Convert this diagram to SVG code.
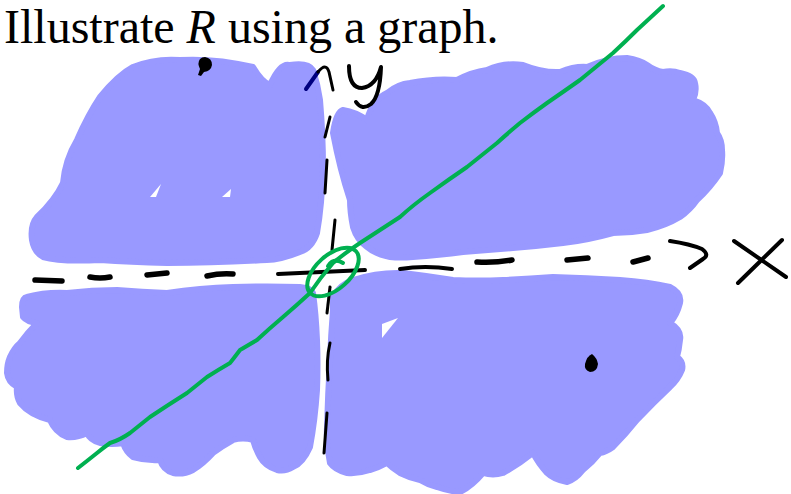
<svg xmlns="http://www.w3.org/2000/svg" width="791" height="494" viewBox="0 0 791 494">
<style>
.blob{fill:#9999FF;stroke:#9999FF;stroke-width:6;stroke-linejoin:round}
.hole{fill:#FFFFFF}
.ink{fill:none;stroke:#000;stroke-width:4;stroke-linecap:round;stroke-linejoin:round}
.dash{fill:none;stroke:#000;stroke-width:5.5;stroke-linecap:round}
.vdash{fill:none;stroke:#000;stroke-width:3;stroke-linecap:round}
.green{fill:none;stroke:#00B050;stroke-width:4;stroke-linecap:round;stroke-linejoin:round}
.title{font-family:"Liberation Serif","Times New Roman",serif;font-size:48px;fill:#000}
</style>
<rect width="791" height="494" fill="#FFFFFF"/>
<text class="title" x="4" y="43">Illustrate <tspan font-style="italic">R</tspan> using a graph.</text>

<g id="regions">
<path class="blob" d="M32,240 Q30,225 37,217 Q55,200 63,183 Q65,160 77,140 Q88,115 100,97 Q118,75 133,67 Q155,58 180,60 Q215,58 253,67 Q262,82 270,85 Q280,62 290,65 Q308,62 313,70 Q318,85 320,100 Q323,135 323,167 Q322,205 317,233 Q312,248 300,252 Q280,260 267,260 Q215,263 167,263 Q130,262 100,260 Q60,262 43,257 Q34,252 32,240 Z"/>
<path class="blob" d="M333,133 Q336,112 343,110 Q356,112 367,120 Q372,100 387,93 Q398,84 410,83 Q435,78 457,80 Q472,72 487,70 Q505,62 523,65 Q543,73 560,72 Q575,66 587,67 Q607,58 627,58 Q640,60 647,65 Q655,71 663,72 Q672,70 680,73 Q694,76 695,83 Q697,92 693,100 Q706,104 710,113 Q716,122 717,133 Q722,140 722,150 Q723,160 720,173 Q710,188 697,200 Q690,210 680,217 Q665,226 647,230 Q630,233 613,233 Q588,240 563,243 Q538,246 513,248 Q488,250 463,252 Q440,255 413,257 Q400,258 390,257 Q375,254 367,247 Q357,240 353,227 Q350,212 350,200 Q340,170 333,133 Z"/>
<path class="blob" d="M22,307 Q22,298 27,297 Q45,292 67,293 Q92,290 117,290 Q142,292 167,293 Q200,288 233,287 Q267,286 300,287 Q311,288 313,293 Q316,315 317,340 Q318,365 317,390 Q315,420 310,447 Q303,463 293,467 Q285,472 277,470 Q265,466 260,457 Q255,448 253,440 Q243,437 233,440 Q222,446 213,453 Q203,464 193,470 Q183,475 173,473 Q163,470 160,460 Q147,461 133,457 Q126,452 123,443 Q112,445 100,443 Q90,440 87,433 Q77,438 67,437 Q55,432 50,420 Q30,415 20,403 Q16,396 17,387 Q8,382 7,373 Q7,364 10,357 Q14,348 20,343 Q28,332 37,323 Q27,322 23,317 Z"/>
<path class="blob" d="M333,297 Q340,284 353,280 Q378,272 403,273 Q428,276 453,280 Q478,281 503,280 Q528,279 553,277 Q587,278 620,280 Q648,282 670,287 Q682,293 680,303 Q677,315 670,323 Q682,330 680,340 Q679,350 677,357 Q684,362 682,370 Q678,380 670,387 Q653,403 637,420 Q625,435 613,447 Q606,452 600,453 Q592,463 583,470 Q575,480 567,482 Q554,480 547,473 Q538,463 533,453 Q518,465 503,473 Q493,476 483,473 Q472,486 460,492 Q448,491 437,487 Q428,485 420,480 Q410,478 400,473 Q392,468 387,463 Q378,468 370,470 Q358,474 347,473 Q335,470 330,463 Q326,445 327,427 Q328,393 330,360 Q331,335 333,310 Z"/>
<path class="hole" d="M150,197 L161,184 L156,197 Z"/>
<path class="hole" d="M222,197 L231,189 L230,197 Z"/>
<path class="hole" d="M382,324 L398,318 L382,338 Z"/>
</g>

<g id="points">
<path d="M205,57 Q212,58 212,65 Q211,71 204,72 L201,76 L198,75 L200,69 Q197,63 200,59 Q202,57 205,57 Z" fill="#000"/>
<path d="M592,354 Q597,358 598,364 Q597,372 590,372 Q584,370 585,364 Q587,356 592,354 Z" fill="#000"/>
</g>

<g id="axes">
<g id="x-axis">
<path class="dash" d="M35,280 L62,281"/>
<path class="dash" d="M90,277 Q100,279 110,277"/>
<path class="dash" d="M147,275 L167,273"/>
<path class="dash" d="M207,276 Q220,273 233,274"/>
<path class="ink" d="M278,274 L365,270"/>
<path class="ink" d="M400,269 Q425,265 452,269"/>
<path class="dash" d="M477,262 Q495,263 512,260"/>
<path class="dash" d="M567,260 L588,258"/>
<path class="dash" d="M633,262 L648,258"/>
<path class="ink" d="M670,241 Q690,244 702,249 Q710,255 703,259 L690,268"/>
</g>
<g id="y-axis">
<path class="vdash" d="M330,117 L325,137"/>
<path class="vdash" d="M327,160 L325,193"/>
<path class="vdash" d="M335,220 L332,250"/>
<path class="vdash" d="M330,287 L327,313"/>
<path class="vdash" d="M330,343 Q326,360 328,380"/>
<path class="vdash" d="M327,413 L324,453"/>
<path d="M306,89 L318,72" fill="none" stroke="#000080" stroke-width="4" stroke-linecap="round"/>
<path class="vdash" d="M318,72 Q326,62 329,72 L333,90"/>
</g>
<g id="labels">
<path class="ink" d="M349,66 Q349,88 362,88 Q376,86 381,67 Q380,96 371,104 Q362,111 356,102"/>
<path class="ink" d="M734,241 L786,277 M782,240 L738,283"/>
</g>
</g>

<g id="curve">
<path class="green" d="M663,6 Q650,18 637,30 Q625,42 613,53 Q597,66 580,80 Q563,92 547,103 Q533,113 520,123 Q508,133 497,143 Q482,155 467,167 Q448,180 430,193 Q413,205 400,217 Q380,230 360,243 Q345,253 333,263 Q320,278 310,293 Q297,305 283,317 Q270,328 257,340 Q245,347 240,350 Q234,358 230,363 Q218,370 207,377 Q197,385 187,393 Q168,405 150,417 Q140,425 130,433 Q120,440 110,443 Q103,448 97,453 Q87,461 78,468"/>
<ellipse class="green" cx="333" cy="272" rx="31" ry="17" transform="rotate(-42 333 272)"/>
<path class="green" d="M328,266 Q334,257 343,263"/>
</g>
</svg>
